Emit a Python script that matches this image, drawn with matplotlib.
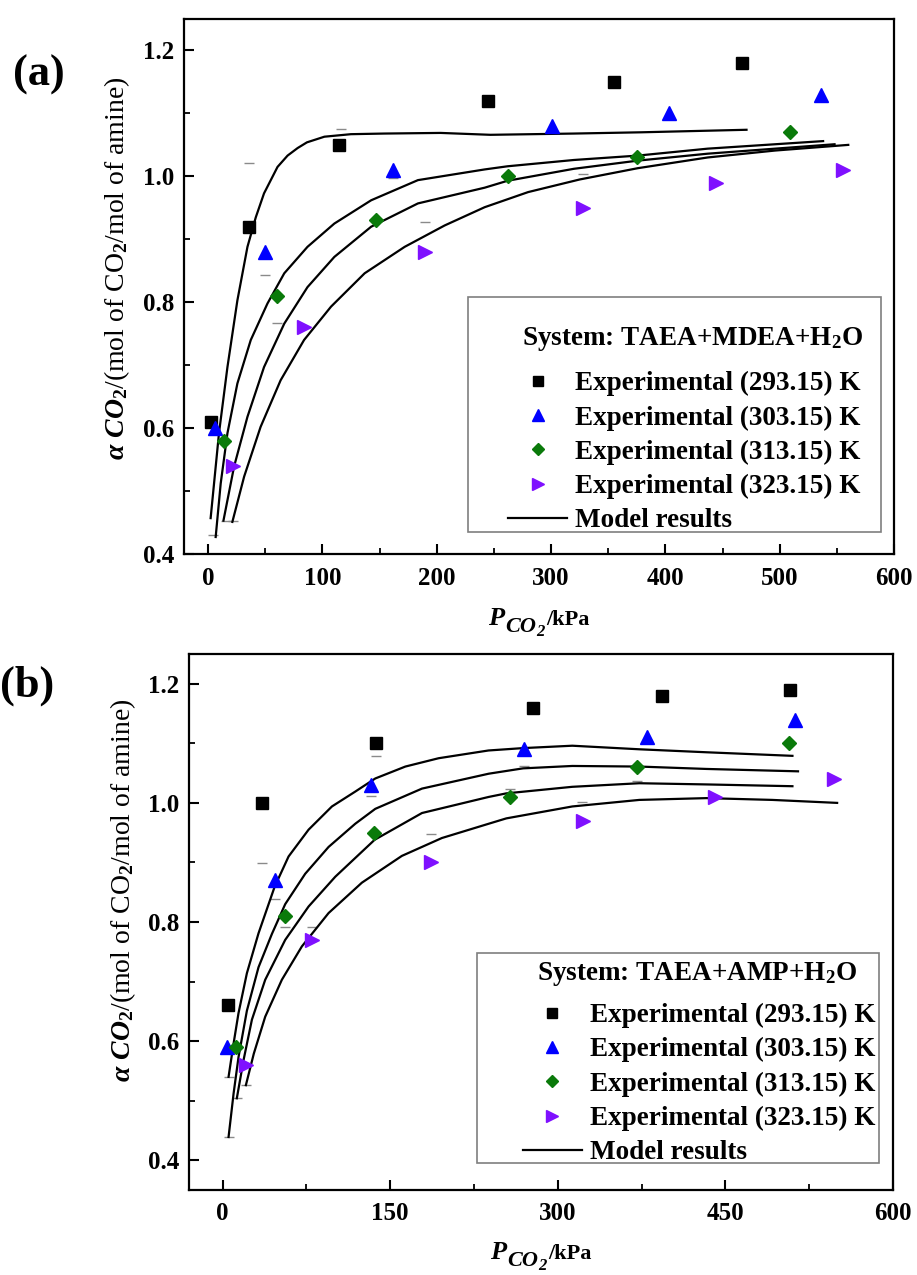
import matplotlib
matplotlib.use("Agg")
import matplotlib.pyplot as plt
from matplotlib.ticker import MultipleLocator, FormatStrFormatter
from matplotlib.lines import Line2D
from matplotlib.patches import Rectangle
from matplotlib.transforms import IdentityTransform

plt.rcParams['font.family'] = ['Liberation Serif', 'DejaVu Serif']
plt.rcParams['font.weight'] = 'bold'
plt.rcParams['mathtext.fontset'] = 'custom'
plt.rcParams['mathtext.rm'] = 'Liberation Serif:bold'
plt.rcParams['mathtext.it'] = 'Liberation Serif:italic:bold'
plt.rcParams['mathtext.bf'] = 'Liberation Serif:bold'

temps = ['293.15', '303.15', '313.15', '323.15']
colors = ['#000000', '#0000FF', '#0A7A0A', '#7F10FF']
markers = ['s', '^', 'D', '>']
msizes = [8.4, 10, 7.2, 10]

# ---------------- Panel (a): TAEA+MDEA+H2O ----------------
a_exp_x_293 = [3, 36, 115, 245, 355, 467]
a_exp_y_293 = [0.61, 0.92, 1.05, 1.12, 1.15, 1.18]
a_exp_x_303 = [6, 50, 162, 301, 403, 536]
a_exp_y_303 = [0.60, 0.88, 1.01, 1.08, 1.10, 1.13]
a_exp_x_313 = [14, 60, 147, 262, 375, 509]
a_exp_y_313 = [0.58, 0.81, 0.93, 1.00, 1.03, 1.07]
a_exp_x_323 = [22, 84, 190, 328, 444, 555]
a_exp_y_323 = [0.54, 0.76, 0.88, 0.95, 0.99, 1.01]

a_mod_x_293 = [2.3, 9.6, 17, 25.7, 34.5, 41.8, 49, 60.8, 69.6, 78.4, 86.5, 101.8, 125, 154, 203.5, 247, 320, 379, 471]
a_mod_y_293 = [0.457, 0.592, 0.697, 0.803, 0.888, 0.935, 0.973, 1.015, 1.033, 1.045, 1.054, 1.063, 1.067, 1.068, 1.069, 1.066, 1.068, 1.070, 1.074]
a_mod_x_303 = [6.7, 11.1, 17, 25.7, 37.4, 52, 66.7, 87, 110.5, 142.7, 183.6, 242, 262, 320, 376, 437, 496, 538]
a_mod_y_303 = [0.427, 0.512, 0.592, 0.671, 0.740, 0.798, 0.846, 0.888, 0.925, 0.962, 0.994, 1.011, 1.016, 1.026, 1.033, 1.044, 1.051, 1.056]
a_mod_x_313 = [13.5, 22.8, 34.5, 49, 66.7, 87, 110.5, 142.7, 183.6, 242, 262, 320, 376, 437, 496, 548]
a_mod_y_313 = [0.453, 0.539, 0.618, 0.697, 0.766, 0.824, 0.872, 0.920, 0.957, 0.982, 0.993, 1.012, 1.025, 1.036, 1.044, 1.051]
a_mod_x_323 = [21.3, 31.6, 46, 63.5, 84, 107.6, 137, 172, 207, 242, 280, 325, 376, 437, 496, 560]
a_mod_y_323 = [0.451, 0.523, 0.602, 0.676, 0.740, 0.793, 0.846, 0.888, 0.922, 0.951, 0.975, 0.995, 1.013, 1.030, 1.041, 1.050]

a_dash_x = [36, 50, 60, 116, 190, 162, 328, 4.7, 16, 22]
a_dash_y = [1.022, 0.844, 0.767, 1.075, 0.927, 0.997, 1.003, 0.43, 0.453, 0.453]

# ---------------- Panel (b): TAEA+AMP+H2O ----------------
b_exp_x_293 = [5, 35, 137, 278, 393, 508]
b_exp_y_293 = [0.66, 1.00, 1.10, 1.16, 1.18, 1.19]
b_exp_x_303 = [4, 47, 133, 270, 380, 512]
b_exp_y_303 = [0.59, 0.87, 1.03, 1.09, 1.11, 1.14]
b_exp_x_313 = [12, 56, 136, 257, 371, 507]
b_exp_y_313 = [0.59, 0.81, 0.95, 1.01, 1.06, 1.10]
b_exp_x_323 = [21, 80, 187, 323, 441, 547]
b_exp_y_323 = [0.56, 0.77, 0.90, 0.97, 1.01, 1.04]

b_mod_x_293 = [5.4, 9.9, 14.3, 21.8, 32.2, 46.6, 59.1, 77, 97.9, 118.8, 136.7, 163.6, 193.4, 238, 269, 313, 373, 433, 510]
b_mod_y_293 = [0.540, 0.596, 0.647, 0.714, 0.781, 0.859, 0.910, 0.955, 0.994, 1.019, 1.041, 1.061, 1.075, 1.088, 1.092, 1.096, 1.090, 1.085, 1.079]
b_mod_x_303 = [5.4, 9.9, 14.3, 21.8, 32.2, 44.2, 56.1, 74, 94.9, 118.8, 136.7, 178.5, 238.2, 269, 313, 373, 433, 515]
b_mod_y_303 = [0.439, 0.512, 0.573, 0.651, 0.724, 0.780, 0.830, 0.881, 0.926, 0.965, 0.990, 1.024, 1.049, 1.058, 1.062, 1.061, 1.057, 1.053]
b_mod_x_313 = [12.8, 18.8, 26.3, 38.2, 56.1, 77, 100.9, 136.1, 178.5, 238.2, 254, 313, 373, 433, 510]
b_mod_y_313 = [0.504, 0.568, 0.636, 0.703, 0.770, 0.826, 0.876, 0.938, 0.983, 1.010, 1.016, 1.027, 1.033, 1.031, 1.028]
b_mod_x_323 = [20.9, 28, 38.2, 53.1, 71, 94.9, 124.7, 160.5, 196.3, 238.2, 254, 313, 373, 433, 492, 550]
b_mod_y_323 = [0.526, 0.579, 0.641, 0.703, 0.759, 0.815, 0.866, 0.911, 0.941, 0.965, 0.974, 0.994, 1.005, 1.008, 1.005, 1.000]

b_dash_x = [35.2, 46.6, 56.1, 80, 137.3, 133, 187, 5.4, 5.4, 12.8, 20.9, 270, 257, 322, 371]
b_dash_y = [0.899, 0.839, 0.792, 0.792, 1.078, 1.012, 0.947, 0.54, 0.439, 0.504, 0.526, 1.062, 1.024, 1.002, 1.036]

W, H = 917, 1275
fig = plt.figure(figsize=(W / 100, H / 100), dpi=100)
axa = fig.add_axes([184/W, 1-554/H, 710/W, 535/H])
axb = fig.add_axes([189/W, 1-1190/H, 704/W, 536/H])


def xlabel_pieces(ax, baseline_px):
    """P_{CO2}/kPa built from text pieces so the subscript stays large."""
    fig.canvas.draw()
    r = fig.canvas.get_renderer()
    pieces = [('P', 19, 'italic', 0, 0),
              ('CO', 16, 'italic', -7, 1),
              ('2', 12, 'italic', -11, 0),
              ('/kPa', 16, 'normal', 0, 2)]
    texts = []
    x = 0.0
    for s, size, style, dy, gap in pieces:
        x += gap
        t = fig.text(x, baseline_px + dy, s, fontsize=size, fontstyle=style,
                     fontweight='bold', ha='left', va='baseline',
                     transform=IdentityTransform())
        w = t.get_window_extent(r).width
        texts.append((t, x))
        x += w
    bb = ax.get_window_extent(r)
    x0 = (bb.x0 + bb.x1) / 2 - x / 2
    for t, xx in texts:
        t.set_x(x0 + xx)


def draw(ax, exps, mods, dashes, xlim, ylim, xmaj, xmin, title,
         box, title_xy, leg_anchor, ylab_y):
    for (mx, my) in mods:
        ax.plot(mx, my, color='black', lw=1.6, zorder=2)
    ax.plot(dashes[0], dashes[1], ls='none', marker='_', ms=7, mew=1.0,
            color='#8a8a8a', zorder=1)
    for i, (ex, ey) in enumerate(exps):
        ax.plot(ex, ey, ls='none', marker=markers[i], ms=msizes[i],
                color=colors[i], mec=colors[i], zorder=3)
    ax.set_xlim(*xlim)
    ax.set_ylim(*ylim)
    ax.xaxis.set_major_locator(MultipleLocator(xmaj))
    ax.xaxis.set_minor_locator(MultipleLocator(xmin))
    ax.yaxis.set_major_locator(MultipleLocator(0.2))
    ax.yaxis.set_minor_locator(MultipleLocator(0.1))
    ax.yaxis.set_major_formatter(FormatStrFormatter('%.1f'))
    ax.tick_params(which='major', direction='in', length=7, width=1.5,
                   labelsize=18, top=False, right=False)
    ax.tick_params(which='minor', direction='in', length=4, width=1.3,
                   top=False, right=False)
    ax.tick_params(axis='x', pad=9)
    ax.tick_params(axis='y', pad=7)
    for s in ax.spines.values():
        s.set_linewidth(1.6)
    ax.set_ylabel(r'$\alpha\ CO_2$/(mol of CO$_2$/mol of amine)', fontsize=20)
    ax.yaxis.set_label_coords(-0.094, ylab_y)
    ax.yaxis.label.set_va('center')

    # legend frame and title
    ax.add_patch(Rectangle((box[0], box[1]), box[2] - box[0], box[3] - box[1],
                           transform=ax.transAxes, fill=True, facecolor='white',
                           edgecolor='#7f7f7f', lw=1.2, zorder=4))
    ax.text(title_xy[0], title_xy[1], title, transform=ax.transAxes,
            fontsize=19.5, fontweight='bold', ha='center', va='baseline',
            zorder=6)
    handles = []
    for i in range(4):
        handles.append(Line2D([], [], ls='none', marker=markers[i],
                              ms=msizes[i] * 0.85, color=colors[i]))
    handles.append(Line2D([], [], color='black', lw=1.6))
    labels = ['Experimental (%s) K' % t for t in temps] + ['Model results']
    leg = ax.legend(handles, labels, loc='upper left',
                    bbox_to_anchor=leg_anchor, borderaxespad=0, borderpad=0,
                    fontsize=19.5, frameon=False,
                    handlelength=2.2, handletextpad=0.3, labelspacing=0.34)
    leg.set_zorder(5)


draw(axa,
     [(a_exp_x_293, a_exp_y_293), (a_exp_x_303, a_exp_y_303),
      (a_exp_x_313, a_exp_y_313), (a_exp_x_323, a_exp_y_323)],
     [(a_mod_x_293, a_mod_y_293), (a_mod_x_303, a_mod_y_303),
      (a_mod_x_313, a_mod_y_313), (a_mod_x_323, a_mod_y_323)],
     (a_dash_x, a_dash_y), (-21, 600), (0.4, 1.25), 100, 50,
     'System: TAEA+MDEA+H$_2$O',
     (0.400, 0.041, 0.982, 0.480), (0.717, 0.3907), (0.456, 0.342), 0.534)

draw(axb,
     [(b_exp_x_293, b_exp_y_293), (b_exp_x_303, b_exp_y_303),
      (b_exp_x_313, b_exp_y_313), (b_exp_x_323, b_exp_y_323)],
     [(b_mod_x_293, b_mod_y_293), (b_mod_x_303, b_mod_y_303),
      (b_mod_x_313, b_mod_y_313), (b_mod_x_323, b_mod_y_323)],
     (b_dash_x, b_dash_y), (-30, 600), (0.35, 1.25), 150, 75,
     'System: TAEA+AMP+H$_2$O',
     (0.409, 0.050, 0.980, 0.442), (0.7216, 0.3918), (0.474, 0.349), 0.56)

fig.text(13/W, 1-75/H, '(a)', fontsize=32, fontweight='bold', va='center', ha='left')
fig.text(0/W, 1-686/H, '(b)', fontsize=32, fontweight='bold', va='center', ha='left')

xlabel_pieces(axa, H - 625)
xlabel_pieces(axb, H - 1259)

fig.savefig('out.png', dpi=100, facecolor='white')
